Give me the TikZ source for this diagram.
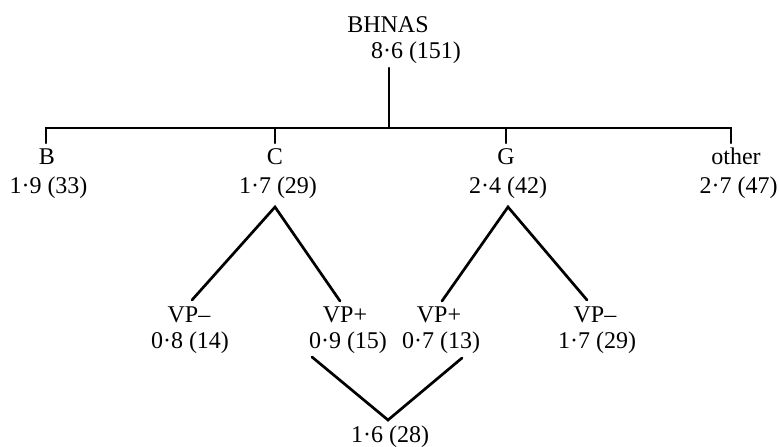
\documentclass[tikz,border=0pt]{standalone}
\usepackage{fontspec}
\setmainfont{Liberation Serif}
\begin{document}
\begin{tikzpicture}[x=1pt,y=-1pt,
  lbl/.style={anchor=base,inner sep=0pt,font=\fontsize{24}{27}\selectfont},
  branch/.style={line width=2.7pt,line cap=round},
  bar/.style={line width=2.3pt,line cap=round}]
\useasboundingbox (0,0) rectangle (779,447);
% root
\node[lbl] (root) at (388,32) {BHNAS};
\node[lbl] (rootv) at (416,58) {8·6 (151)};
% first level
\node[lbl] (B) at (47,164) {B};
\node[lbl] (Bv) at (48.5,193) {1·9 (33)};
\node[lbl] (C) at (275,164) {C};
\node[lbl] (Cv) at (278,193) {1·7 (29)};
\node[lbl] (G) at (506,164) {G};
\node[lbl] (Gv) at (508,193) {2·4 (42)};
\node[lbl] (O) at (736,164) {other};
\node[lbl] (Ov) at (738.5,193) {2·7 (47)};
% second level
\node[lbl] (CM) at (189,322) {VP--};
\node[lbl] (CMv) at (190,348) {0·8 (14)};
\node[lbl] (CP) at (345,322) {VP+};
\node[lbl] (CPv) at (348,348) {0·9 (15)};
\node[lbl] (GP) at (439,322) {VP+};
\node[lbl] (GPv) at (441,348) {0·7 (13)};
\node[lbl] (GM) at (595,322) {VP--};
\node[lbl] (GMv) at (597,348) {1·7 (29)};
\node[lbl] (sum) at (390,442) {1·6 (28)};
% connector end points
\coordinate (rootdown) at (389,68);
\coordinate (hub) at (389,128);
\coordinate (barL) at (46,128);
\coordinate (barR) at (731,128);
\coordinate (Btop) at (46,143);
\coordinate (Cbar) at (275,128);
\coordinate (Ctop) at (275,143);
\coordinate (Gbar) at (506,128);
\coordinate (Gtop) at (506,143);
\coordinate (Otop) at (731,143);
\coordinate (Capex) at (275,207);
\coordinate (Gapex) at (508,207);
\coordinate (CMtop) at (192,300);
\coordinate (CPtop) at (340,301);
\coordinate (GPtop) at (442,301);
\coordinate (GMtop) at (587,300);
\coordinate (CPbot) at (312,357);
\coordinate (GPbot) at (462,358);
\coordinate (sumtop) at (388,420);
% tree lines
\draw[bar] (rootdown) -- (hub);
\draw[bar] (Btop) -- (barL) -- (barR) -- (Otop);
\draw[bar] (Cbar) -- (Ctop);
\draw[bar] (Gbar) -- (Gtop);
\draw[branch] (CMtop) -- (Capex) -- (CPtop);
\draw[branch] (GPtop) -- (Gapex) -- (GMtop);
\draw[branch] (CPbot) -- (sumtop) -- (GPbot);
\end{tikzpicture}
\end{document}
